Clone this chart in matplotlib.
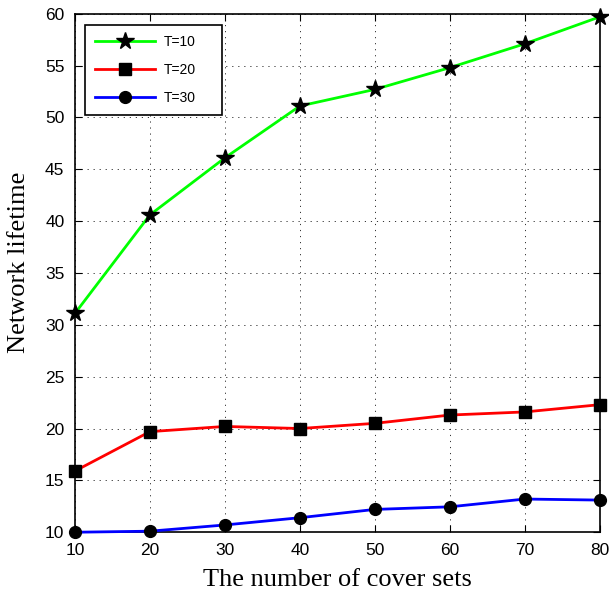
import matplotlib.pyplot as plt

# data
cover_sets = [10, 20, 30, 40, 50, 60, 70, 80]
t10 = [31.1, 40.6, 46.1, 51.1, 52.7, 54.8, 57.1, 59.7]
t20 = [15.9, 19.7, 20.2, 20.0, 20.5, 21.3, 21.6, 22.3]
t30 = [10.0, 10.1, 10.7, 11.4, 12.2, 12.45, 13.2, 13.1]

fig = plt.figure(figsize=(6.09, 5.96), dpi=100)
ax = fig.add_axes([0.123, 0.107, 0.862, 0.870])

ax.plot(cover_sets, t10, color='#00ff00', lw=2, marker='*', ms=13,
        mfc='black', mec='black', label='T=10', clip_on=False, zorder=3)
ax.plot(cover_sets, t20, color='red', lw=2, marker='s', ms=9,
        mfc='black', mec='black', label='T=20', clip_on=False, zorder=3)
ax.plot(cover_sets, t30, color='blue', lw=2, marker='o', ms=8.5,
        mfc='black', mec='black', label='T=30', clip_on=False, zorder=3)

ax.set_xlim(10, 80)
ax.set_ylim(10, 60)
ax.set_xticks(range(10, 81, 10))
ax.set_yticks(range(10, 61, 5))
ax.grid(True, color='#333333', linestyle=(0, (1.2, 5)), linewidth=0.7)
ax.tick_params(direction='in', top=True, right=True, length=5, labelsize=12.5, pad=7.5)
for lab in ax.get_xticklabels() + ax.get_yticklabels():
    lab.set_family('Liberation Sans')
for s in ax.spines.values():
    s.set_linewidth(1.2)

ax.set_xlabel('The number of cover sets', family='Liberation Serif', fontsize=19,
              labelpad=8)
ax.set_ylabel('Network lifetime', family='Liberation Serif', fontsize=19)
ax.yaxis.set_label_coords(-0.085, 0.52)

# legend box stretched like the MATLAB one
leg = ax.legend(loc='upper left', prop={'family': 'Liberation Sans', 'size': 10},
                fancybox=False, edgecolor='black', framealpha=1,
                borderpad=0.75, labelspacing=1.0, handlelength=4.3,
                handletextpad=0.6, borderaxespad=0,
                mode='expand', bbox_to_anchor=(0.019, 0.5, 0.261, 0.479))
leg.get_frame().set_linewidth(1.2)

fig.savefig('out.png', dpi=100)
